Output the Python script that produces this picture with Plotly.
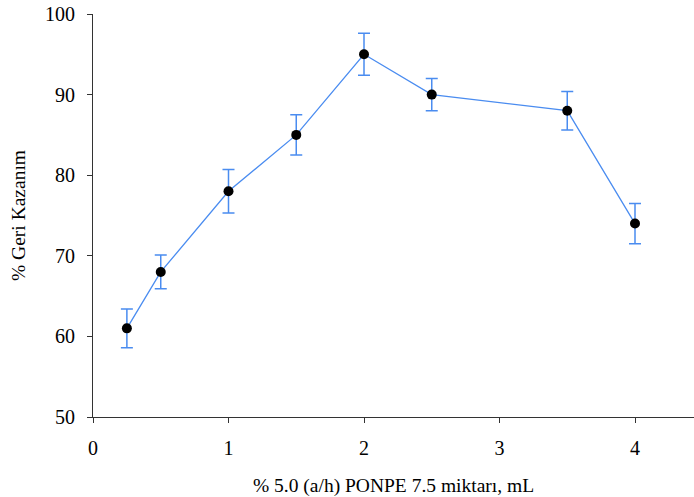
import plotly.graph_objects as go

x_vals = [0.25, 0.5, 1.0, 1.5, 2.0, 2.5, 3.5, 4.0]
y_vals = [61, 68, 78, 85, 95, 90, 88, 74]
y_err = [2.4, 2.1, 2.7, 2.5, 2.6, 2.0, 2.4, 2.5]

x_ticks = [0, 1, 2, 3, 4]
y_ticks = [50, 60, 70, 80, 90, 100]

blue = "#4a8cf0"

fig = go.Figure()
fig.add_trace(go.Scatter(
    x=x_vals, y=y_vals,
    mode="lines+markers",
    line=dict(color=blue, width=1.3),
    marker=dict(color="black", size=10),
    error_y=dict(type="data", array=y_err, visible=True, color=blue, thickness=1.5, width=6),
    showlegend=False,
))

font = dict(family="Liberation Serif, Times New Roman, serif", color="black", size=20)

fig.update_layout(
    width=694, height=497,
    margin=dict(l=93, r=0, t=14, b=80),
    paper_bgcolor="white", plot_bgcolor="white",
    font=font,
    xaxis=dict(
        range=[0, 601/135.5], tickvals=x_ticks, showgrid=False, zeroline=False,
        showline=True, linecolor="#333333", linewidth=1.2,
        ticks="outside", ticklen=5, tickcolor="#333333", ticklabelstandoff=8,
        title=dict(text="% 5.0 (a/h) PONPE 7.5 miktarı, mL", font=dict(size=19.5), standoff=20),
    ),
    yaxis=dict(
        range=[50, 100], tickvals=y_ticks, showgrid=False, zeroline=False,
        showline=True, linecolor="#333333", linewidth=1.2,
        ticks="outside", ticklen=5, tickcolor="#333333", ticklabelstandoff=8,
        title=dict(text="% Geri Kazanım", font=dict(size=19.5), standoff=14),
    ),
)

fig.write_html("out.html")
